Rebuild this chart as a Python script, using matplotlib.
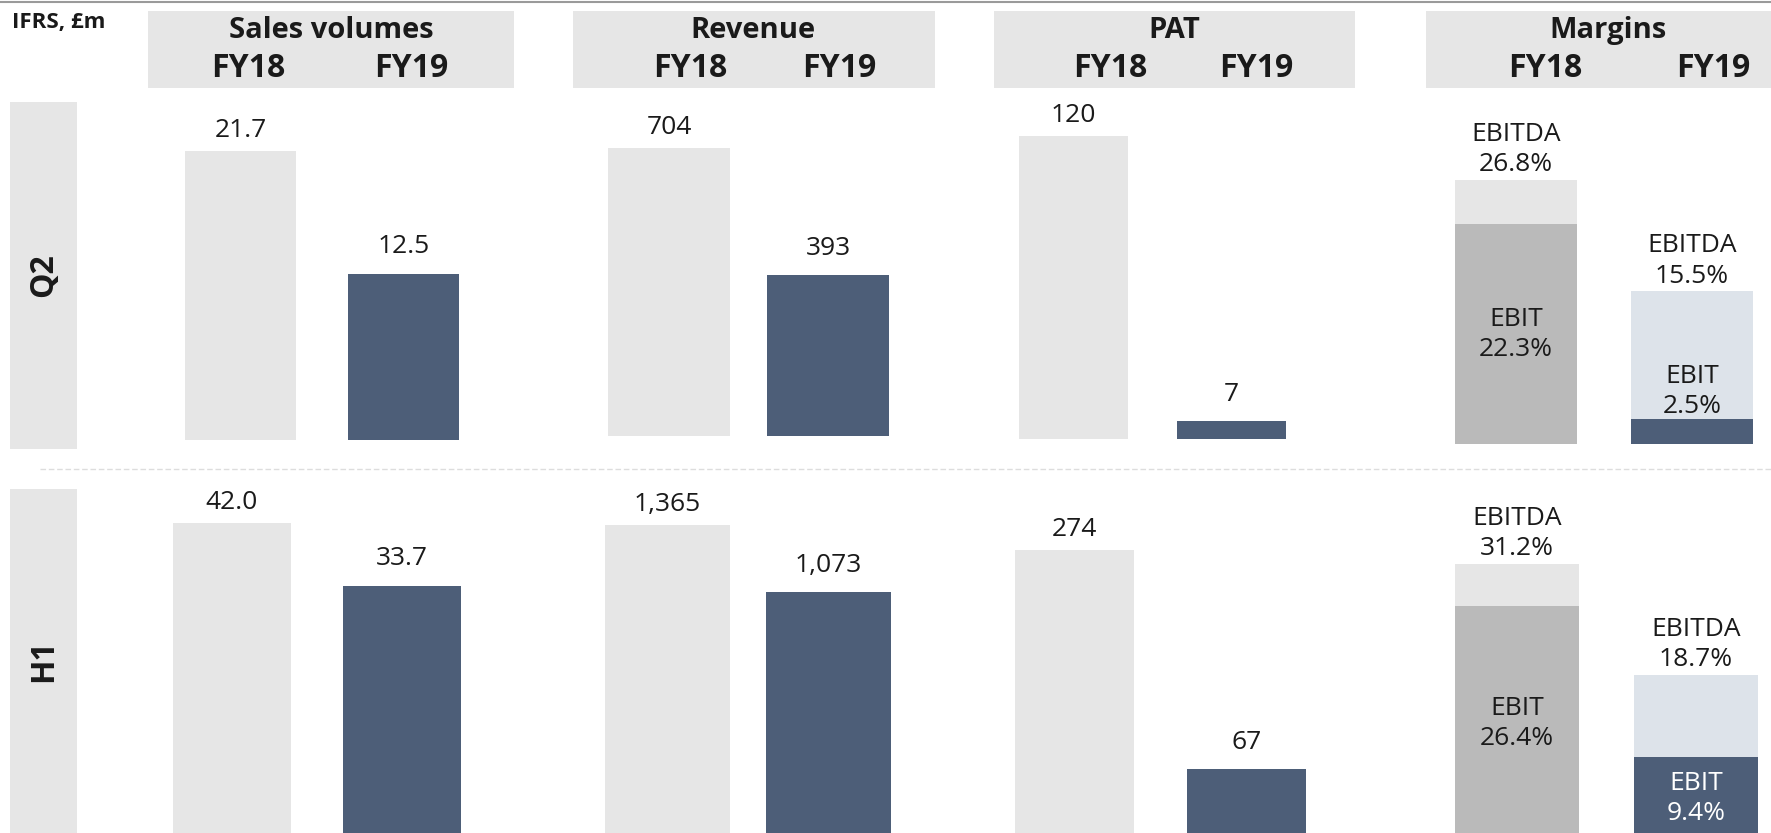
import matplotlib.pyplot as plt
from matplotlib.patches import Rectangle

plt.rcParams["font.family"] = ["Open Sans", "DejaVu Sans"]

# figure size in pixels
W, H = 1771, 833

# ---------------------------------------------------------------------------
# data
# ---------------------------------------------------------------------------
periods = ["Q2", "H1"]
years = ["FY18", "FY19"]
metrics = ["Sales volumes", "Revenue", "PAT", "Margins"]

sales_q2 = [21.7, 12.5]
sales_h1 = [42.0, 33.7]
revenue_q2 = [704, 393]
revenue_h1 = [1365, 1073]
pat_q2 = [120, 7]
pat_h1 = [274, 67]
ebitda_q2 = [26.8, 15.5]
ebit_q2 = [22.3, 2.5]
ebitda_h1 = [31.2, 18.7]
ebit_h1 = [26.4, 9.4]

# ---------------------------------------------------------------------------
# styling
# ---------------------------------------------------------------------------
LIGHT = "#e6e6e6"
DARK = "#4d5e78"
MID_GREY = "#bababa"
PALE_BLUE = "#dde3ea"
TEXT = "#1a1a1a"
VAL_SIZE = 19
LINESP = 1.27
LABEL_OFFSET = [14.5, 19.5]  # points above bar top, FY18 / FY19

# panel geometry in pixels: (left, right, baseline, top of tallest bar, bar width fraction)
GEOM = {
    ("Q2", "Sales volumes"): (185, 459, 440, 151, 0.683),
    ("Q2", "Revenue"): (608, 889, 436, 148, 0.767),
    ("Q2", "PAT"): (1019, 1286, 439, 136, 0.69),
    ("Q2", "Margins"): (1455, 1753, 444, 180, 0.693),
    ("H1", "Sales volumes"): (173, 461, 840, 523, 0.694),
    ("H1", "Revenue"): (605, 891, 840, 525, 0.774),
    ("H1", "PAT"): (1015, 1306, 840, 550, 0.69),
    ("H1", "Margins"): (1455, 1758, 840, 564, 0.693),
}

# header boxes: (left, right, title x, FY18 x, FY19 x)
HEADERS = {
    "Sales volumes": (148, 514, 331, 248, 411),
    "Revenue": (573, 935, 753, 690, 839),
    "PAT": (994, 1355, 1174, 1110, 1256),
    "Margins": (1426, 1771, 1608, 1545, 1713),
}

ROW_BOX = {"Q2": (102, 449), "H1": (489, 833)}

fig = plt.figure(figsize=(W / 100, H / 100), dpi=100)

# overlay for boxes / headers drawn in pixel coordinates
bg = fig.add_axes([0, 0, 1, 1], zorder=0)
bg.set_xlim(0, W)
bg.set_ylim(H, 0)
bg.axis("off")

bg.plot([0, W], [1.5, 1.5], color="#9a9a9a", lw=1.5)
bg.text(12, 22, "IFRS, £m", fontsize=16, fontweight="bold", color=TEXT,
        ha="left", va="center")

for name, (x0, x1, tx, f18, f19) in HEADERS.items():
    bg.add_patch(Rectangle((x0, 11), x1 - x0, 77, color=LIGHT, lw=0))
    bg.text(tx, 30, name, fontsize=21, fontweight="bold", color=TEXT,
            ha="center", va="center")
    bg.text(f18, 68, years[0], fontsize=23, fontweight="bold", color=TEXT,
            ha="center", va="center")
    bg.text(f19, 68, years[1], fontsize=23, fontweight="bold", color=TEXT,
            ha="center", va="center")

for p in periods:
    y0, y1 = ROW_BOX[p]
    bg.add_patch(Rectangle((10, y0), 67, y1 - y0, color=LIGHT, lw=0))
    bg.text(44, (y0 + y1) / 2, p, fontsize=23, fontweight="bold", color=TEXT,
            rotation=90, ha="center", va="center")

bg.plot([40, W], [469, 469], color="#dddddd", lw=1, ls=(0, (4, 2)))


def panel_axes(period, metric, ymax):
    left, right, base, top, w = GEOM[(period, metric)]
    ax = fig.add_axes([left / W, (H - base) / H, (right - left) / W, (base - top) / H],
                      zorder=2)
    ax.set_xlim(-w / 2, 1 + w / 2)
    ax.set_ylim(0, ymax)
    ax.axis("off")
    ax.patch.set_alpha(0)
    return ax, w


def simple_panel(period, metric, values, fmt):
    ax, w = panel_axes(period, metric, max(values))
    ax.bar([0, 1], values, width=w, color=[LIGHT, DARK], clip_on=False)
    for i, v in enumerate(values):
        ax.annotate(fmt(v), (i, v), xytext=(0, LABEL_OFFSET[i]),
                    textcoords="offset points", ha="center", va="center",
                    fontsize=VAL_SIZE, color=TEXT, annotation_clip=False)


def margin_panel(period, ebitda, ebit):
    ymax = max(ebitda)
    ax, w = panel_axes(period, "Margins", ymax)
    ax.bar([0, 1], ebitda, width=w, color=[LIGHT, PALE_BLUE], clip_on=False)
    ax.bar([0, 1], ebit, width=w, color=[MID_GREY, DARK], clip_on=False)
    for i in range(2):
        ax.annotate(f"EBITDA\n{ebitda[i]:.1f}%", (i, ebitda[i]), xytext=(0, 2),
                    textcoords="offset points", ha="center", va="bottom",
                    fontsize=VAL_SIZE, color=TEXT, linespacing=LINESP,
                    annotation_clip=False)
        label = f"EBIT\n{ebit[i]:.1f}%"
        if ebit[i] / ymax < 0.2:
            # segment too thin: put the label just above it
            ax.annotate(label, (i, ebit[i]), xytext=(0, 0),
                        textcoords="offset points", ha="center", va="bottom",
                        fontsize=VAL_SIZE, color=TEXT, linespacing=LINESP,
                        annotation_clip=False)
        else:
            col = TEXT if i == 0 else "white"
            ax.text(i, ebit[i] / 2, label, ha="center", va="center",
                    fontsize=VAL_SIZE, color=col, linespacing=LINESP)


simple_panel("Q2", "Sales volumes", sales_q2, lambda v: f"{v:.1f}")
simple_panel("H1", "Sales volumes", sales_h1, lambda v: f"{v:.1f}")
simple_panel("Q2", "Revenue", revenue_q2, lambda v: f"{v:,}")
simple_panel("H1", "Revenue", revenue_h1, lambda v: f"{v:,}")
simple_panel("Q2", "PAT", pat_q2, lambda v: f"{v}")
simple_panel("H1", "PAT", pat_h1, lambda v: f"{v}")
margin_panel("Q2", ebitda_q2, ebit_q2)
margin_panel("H1", ebitda_h1, ebit_h1)

fig.savefig("out.png", dpi=100)
